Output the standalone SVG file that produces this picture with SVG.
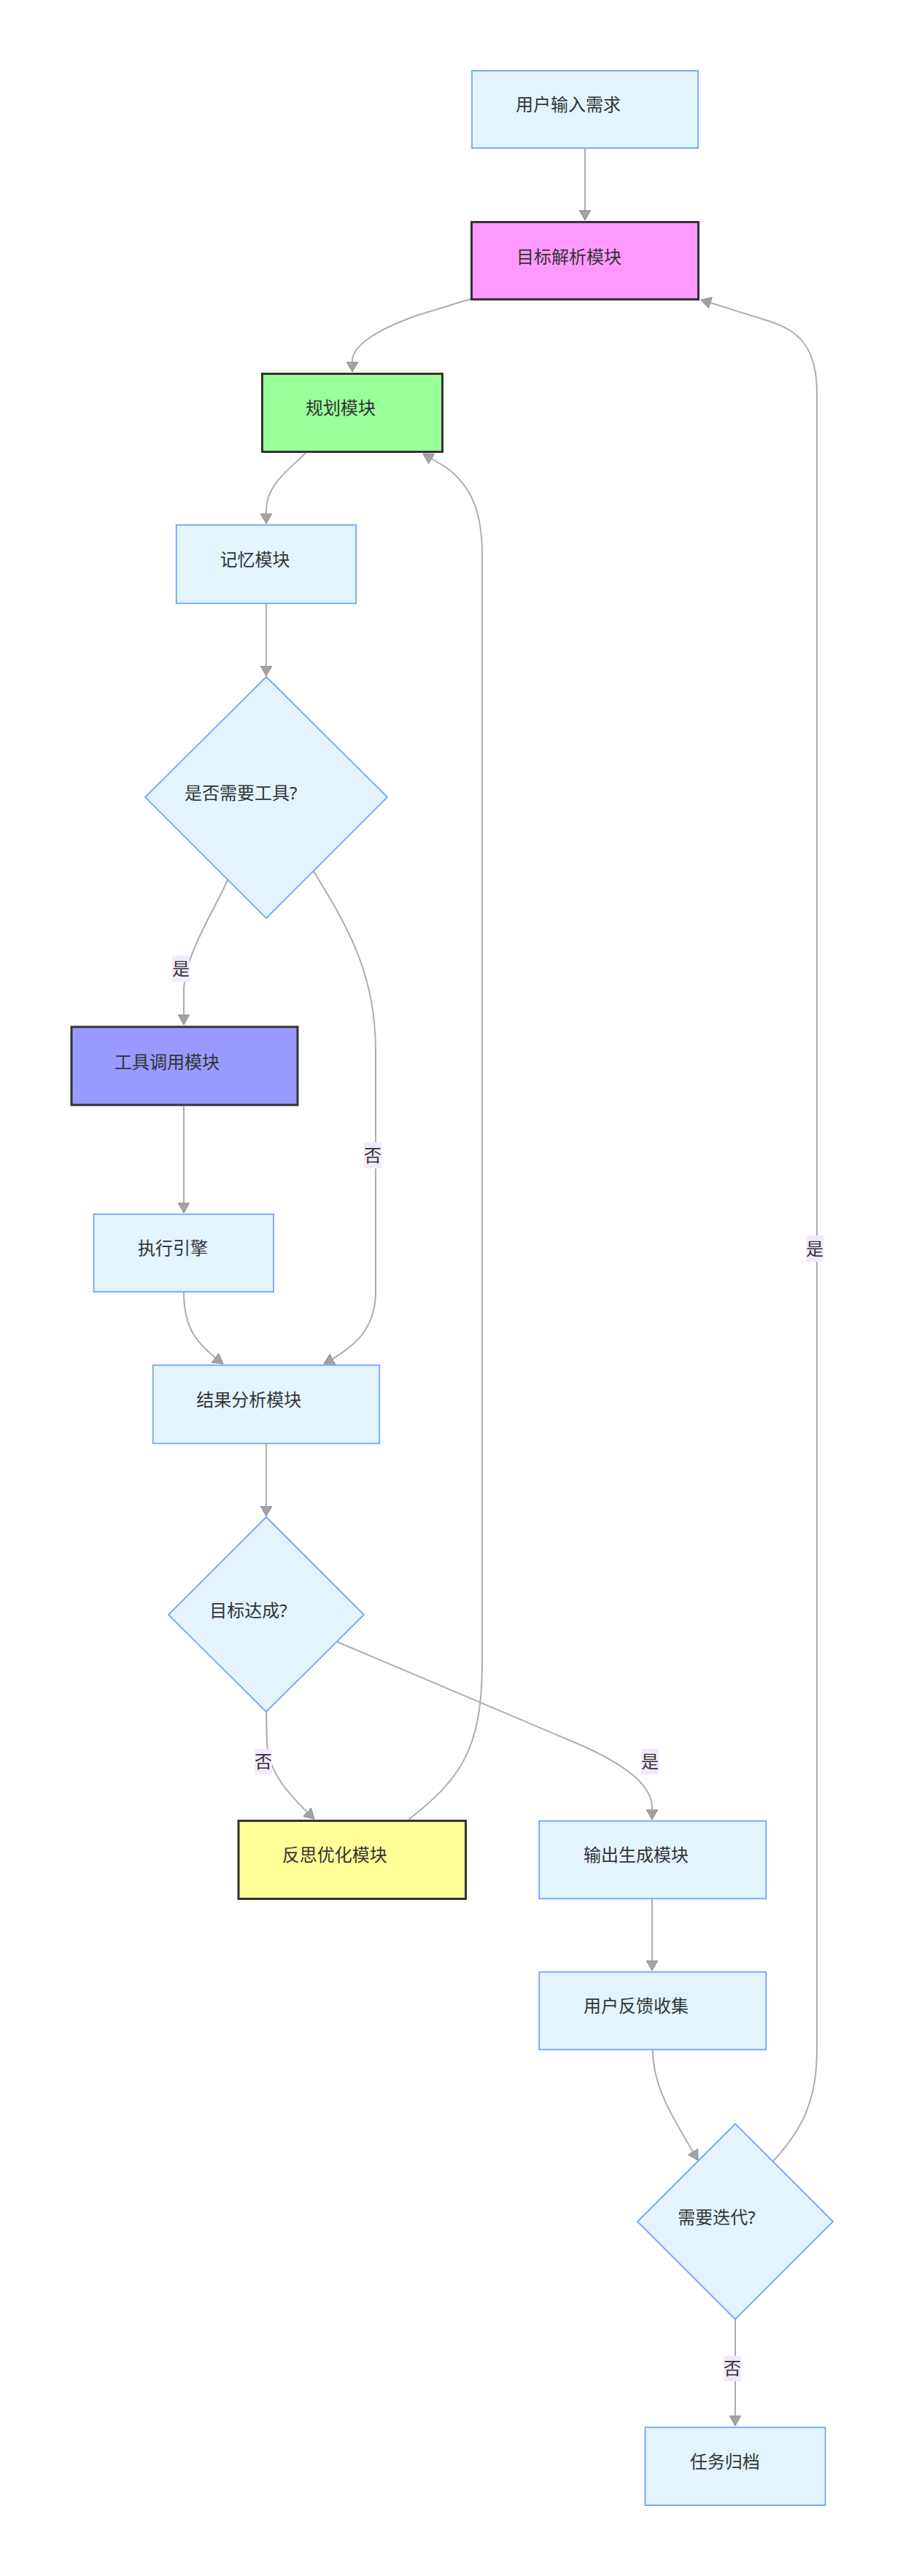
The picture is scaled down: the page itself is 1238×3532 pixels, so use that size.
<svg xmlns="http://www.w3.org/2000/svg" width="1238" height="3532" viewBox="0 0 1238 3532">
<style>
.bg{fill:#ffffff}
.nb{fill:#e3f4fd;stroke:#72a5f6;stroke-width:1.8}
.nd{stroke:#333333;stroke-width:3}
.t{font-family:"Noto Sans","Noto Sans CJK SC",sans-serif;font-size:24px;fill:#333333}
.e{fill:none;stroke:#adadad;stroke-width:2}
.lb{fill:#f2eafc}
</style>
<defs>
<marker id="ah" viewBox="0 0 14 16" refX="14" refY="8" markerWidth="14" markerHeight="16" markerUnits="userSpaceOnUse" orient="auto">
<path d="M0,0 L14,8 L0,16 z" fill="#a3a3a3" stroke="#8c8c8c" stroke-width="1"/>
</marker>
</defs>
<rect class="bg" x="0" y="0" width="1238" height="3532"/>

<g id="edges">
<path class="e" marker-end="url(#ah)" d="M802,204 L802,302"/>
<path class="e" marker-end="url(#ah)" d="M645,410 L570,433 C510,455 483,475 483,495 L483,510"/>
<path class="e" marker-end="url(#ah)" d="M419,621 C395,645 365,665 365,700 L365,718"/>
<path class="e" marker-end="url(#ah)" d="M365,828 L365,927"/>
<path class="e" marker-end="url(#ah)" d="M312,1207 C290,1255 256,1305 252,1355 L252,1405"/>
<path class="e" marker-end="url(#ah)" d="M430,1195 C480,1275 515,1340 515,1440 L515,1770 C515,1820 490,1845 444,1870"/>
<path class="e" marker-end="url(#ah)" d="M252,1517 L252,1663"/>
<path class="e" marker-end="url(#ah)" d="M252,1772 C252,1820 268,1842 306,1870"/>
<path class="e" marker-end="url(#ah)" d="M365,1980 L365,2079"/>
<path class="e" marker-end="url(#ah)" d="M365,2347 L366,2390 C368,2430 395,2460 431,2494"/>
<path class="e" marker-end="url(#ah)" d="M462,2251 L790,2390 C858,2419 894,2448 894,2478 L894,2495"/>
<path class="e" marker-end="url(#ah)" d="M560,2495 C630,2440 661,2400 661,2280 L661,760 C661,705 648,668 612,641 L580,622"/>
<path class="e" marker-end="url(#ah)" d="M894,2604 L894,2702"/>
<path class="e" marker-end="url(#ah)" d="M895,2811 C895,2860 920,2900 957,2962"/>
<path class="e" marker-end="url(#ah)" d="M1060,2963 C1100,2920 1120,2880 1120,2810 L1120,540 C1120,475 1095,452 1050,439 L961,411"/>
<path class="e" marker-end="url(#ah)" d="M1008,3180 L1008,3326"/>
<g id="edge-labels">
<rect class="lb" x="236" y="1310" width="24" height="36"/>
<text class="t" x="248" y="1337" text-anchor="middle">是</text>
<rect class="lb" x="499" y="1566" width="24" height="36"/>
<text class="t" x="511" y="1593" text-anchor="middle">否</text>
<rect class="lb" x="349" y="2398" width="24" height="35"/>
<text class="t" x="361" y="2424" text-anchor="middle">否</text>
<rect class="lb" x="879" y="2398" width="24" height="35"/>
<text class="t" x="891" y="2424" text-anchor="middle">是</text>
<rect class="lb" x="1105" y="1694" width="24" height="36"/>
<text class="t" x="1117" y="1721" text-anchor="middle">是</text>
<rect class="lb" x="992" y="3230" width="24" height="35"/>
<text class="t" x="1004" y="3256" text-anchor="middle">否</text>
</g>
</g>

<g id="n-input">
<rect class="nb" x="647" y="97" width="310" height="106"/>
<text class="t" x="707" y="152">用户输入需求</text>
</g>
<g id="n-goal">
<rect class="nd" fill="#ff99ff" x="646.5" y="304.5" width="311" height="106"/>
<text class="t" x="708" y="361">目标解析模块</text>
</g>
<g id="n-plan">
<rect class="nd" fill="#99ff99" x="359.5" y="512.5" width="247" height="107"/>
<text class="t" x="419" y="568">规划模块</text>
</g>
<g id="n-memory">
<rect class="nb" x="241.75" y="719.75" width="246.5" height="107.5"/>
<text class="t" x="301.5" y="775.5">记忆模块</text>
</g>
<g id="n-needtool">
<polygon class="nb" points="365,928 531,1093 365,1259 199,1093"/>
<text class="t" x="253" y="1096">是否需要工具?</text>
</g>
<g id="n-tool">
<rect class="nd" fill="#9999ff" x="98" y="1408" width="310" height="107"/>
<text class="t" x="157" y="1464.5">工具调用模块</text>
</g>
<g id="n-exec">
<rect class="nb" x="128.5" y="1664.75" width="246.5" height="106.5"/>
<text class="t" x="189" y="1720">执行引擎</text>
</g>
<g id="n-analysis">
<rect class="nb" x="209.75" y="1871.75" width="310.5" height="107.5"/>
<text class="t" x="269.3" y="1928">结果分析模块</text>
</g>
<g id="n-achieved">
<polygon class="nb" points="365,2080 499,2214 365,2347 231,2214"/>
<text class="t" x="287.3" y="2216.7">目标达成?</text>
</g>
<g id="n-reflect">
<rect class="nd" fill="#ffff99" x="327" y="2496.5" width="311.5" height="107"/>
<text class="t" x="386.7" y="2552">反思优化模块</text>
</g>
<g id="n-output">
<rect class="nb" x="739.25" y="2496.75" width="311" height="106.5"/>
<text class="t" x="800" y="2552">输出生成模块</text>
</g>
<g id="n-feedback">
<rect class="nb" x="739.25" y="2703.75" width="311" height="106.5"/>
<text class="t" x="800" y="2759">用户反馈收集</text>
</g>
<g id="n-iterate">
<polygon class="nb" points="1008,2912 1142,3046 1008,3180 874,3046"/>
<text class="t" x="929.3" y="3049">需要迭代?</text>
</g>
<g id="n-archive">
<rect class="nb" x="884.5" y="3328.25" width="247" height="106.75"/>
<text class="t" x="945.7" y="3384">任务归档</text>
</g>
</svg>
